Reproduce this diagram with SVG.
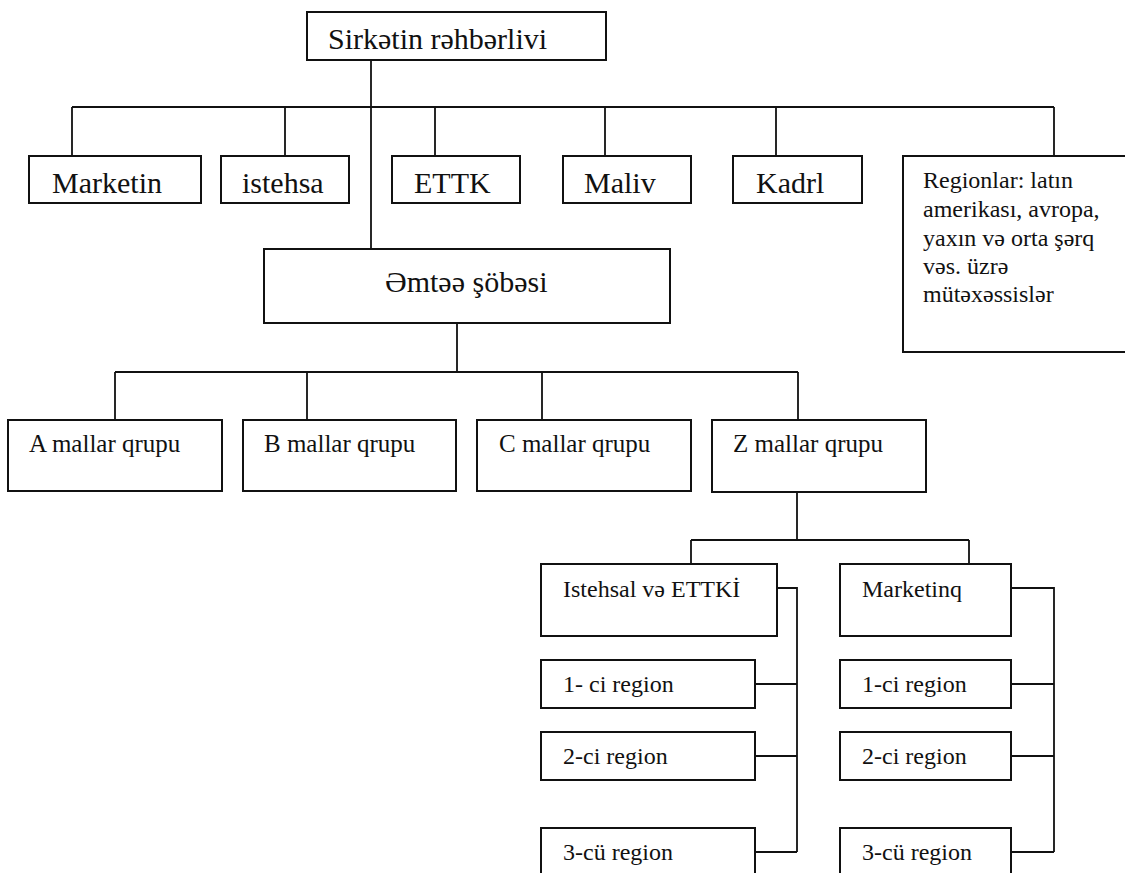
<svg xmlns="http://www.w3.org/2000/svg" width="1125" height="873" viewBox="0 0 1125 873">
  <style>
    .box { fill: #ffffff; stroke: #111111; stroke-width: 2; }
    .wire { fill: none; stroke: #111111; stroke-width: 1.8; }
    .lbl { font-family: "Liberation Serif", "Times New Roman", serif; fill: #111111; }
    .t30 { font-size: 30px; }
    .t25 { font-size: 25px; }
    .t24 { font-size: 24px; }
  </style>
  <rect width="1125" height="873" fill="#ffffff"/>

  <!-- connectors -->
  <g id="connectors" class="wire">
    <!-- top level -->
    <path d="M371 60 V250"/>
    <path d="M72 107 H1054"/>
    <path d="M72 107 V156 M285 107 V156 M435 107 V156 M605 107 V156 M776 107 V156 M1054 107 V156"/>
    <!-- goods department -->
    <path d="M457 323 V372 M115 372 H798"/>
    <path d="M115 372 V420 M307 372 V420 M542 372 V420 M798 372 V420"/>
    <!-- Z group -->
    <path d="M797 492 V540 M691 540 H969 M691 540 V564 M969 540 V564"/>
    <!-- left branch regions -->
    <path d="M777 588 H797 V852 M755 684 H797 M755 756 H797 M755 852 H797"/>
    <!-- right branch regions -->
    <path d="M1011 588 H1054 V852 M1011 684 H1054 M1011 756 H1054 M1011 852 H1054"/>
  </g>

  <g id="rehberlik">
    <rect class="box" x="307" y="12" width="299" height="48"/>
    <text class="lbl t30" x="328" y="49">Sirkətin rəhbərlivi</text>
  </g>

  <g id="marketin">
    <rect class="box" x="29" y="156" width="172" height="47"/>
    <text class="lbl t30" x="52" y="193">Marketin</text>
  </g>
  <g id="istehsa">
    <rect class="box" x="221" y="156" width="128" height="47"/>
    <text class="lbl t30" x="242" y="193">istehsa</text>
  </g>
  <g id="ettk">
    <rect class="box" x="392" y="156" width="128" height="47"/>
    <text class="lbl t30" x="414" y="193">ETTK</text>
  </g>
  <g id="maliv">
    <rect class="box" x="563" y="156" width="128" height="47"/>
    <text class="lbl t30" x="584" y="193">Maliv</text>
  </g>
  <g id="kadrl">
    <rect class="box" x="733" y="156" width="129" height="47"/>
    <text class="lbl t30" x="756" y="193">Kadrl</text>
  </g>
  <g id="regionlar">
    <rect class="box" x="903" y="156" width="230" height="196"/>
    <text class="lbl t24" x="923" y="188">Regionlar: latın</text>
    <text class="lbl t24" x="923" y="217">amerikası, avropa,</text>
    <text class="lbl t24" x="923" y="246">yaxın və orta şərq</text>
    <text class="lbl t24" x="923" y="274">vəs. üzrə</text>
    <text class="lbl t24" x="923" y="302">mütəxəssislər</text>
  </g>

  <g id="emtee-sobesi">
    <rect class="box" x="264" y="249" width="406" height="74"/>
    <text class="lbl t30" x="385" y="292">Əmtəə şöbəsi</text>
  </g>

  <g id="a-qrupu">
    <rect class="box" x="8" y="420" width="214" height="71"/>
    <text class="lbl t25" x="29" y="452">A mallar qrupu</text>
  </g>
  <g id="b-qrupu">
    <rect class="box" x="243" y="420" width="213" height="71"/>
    <text class="lbl t25" x="264" y="452">B mallar qrupu</text>
  </g>
  <g id="c-qrupu">
    <rect class="box" x="477" y="420" width="214" height="71"/>
    <text class="lbl t25" x="499" y="452">C mallar qrupu</text>
  </g>
  <g id="z-qrupu">
    <rect class="box" x="712" y="420" width="214" height="72"/>
    <text class="lbl t25" x="733" y="452">Z mallar qrupu</text>
  </g>

  <g id="istehsal-ettki">
    <rect class="box" x="541" y="564" width="236" height="72"/>
    <text class="lbl t24" x="563" y="597">Istehsal və ETTKİ</text>
  </g>
  <g id="marketinq">
    <rect class="box" x="840" y="564" width="171" height="72"/>
    <text class="lbl t24" x="862" y="597">Marketinq</text>
  </g>

  <g id="ist-region-1">
    <rect class="box" x="541" y="660" width="214" height="48"/>
    <text class="lbl t24" x="563" y="692">1- ci region</text>
  </g>
  <g id="ist-region-2">
    <rect class="box" x="541" y="732" width="214" height="48"/>
    <text class="lbl t24" x="563" y="764">2-ci region</text>
  </g>
  <g id="ist-region-3">
    <rect class="box" x="541" y="828" width="214" height="60"/>
    <text class="lbl t24" x="563" y="860">3-cü region</text>
  </g>

  <g id="mar-region-1">
    <rect class="box" x="840" y="660" width="171" height="48"/>
    <text class="lbl t24" x="862" y="692">1-ci region</text>
  </g>
  <g id="mar-region-2">
    <rect class="box" x="840" y="732" width="171" height="48"/>
    <text class="lbl t24" x="862" y="764">2-ci region</text>
  </g>
  <g id="mar-region-3">
    <rect class="box" x="840" y="828" width="171" height="60"/>
    <text class="lbl t24" x="862" y="860">3-cü region</text>
  </g>
</svg>
